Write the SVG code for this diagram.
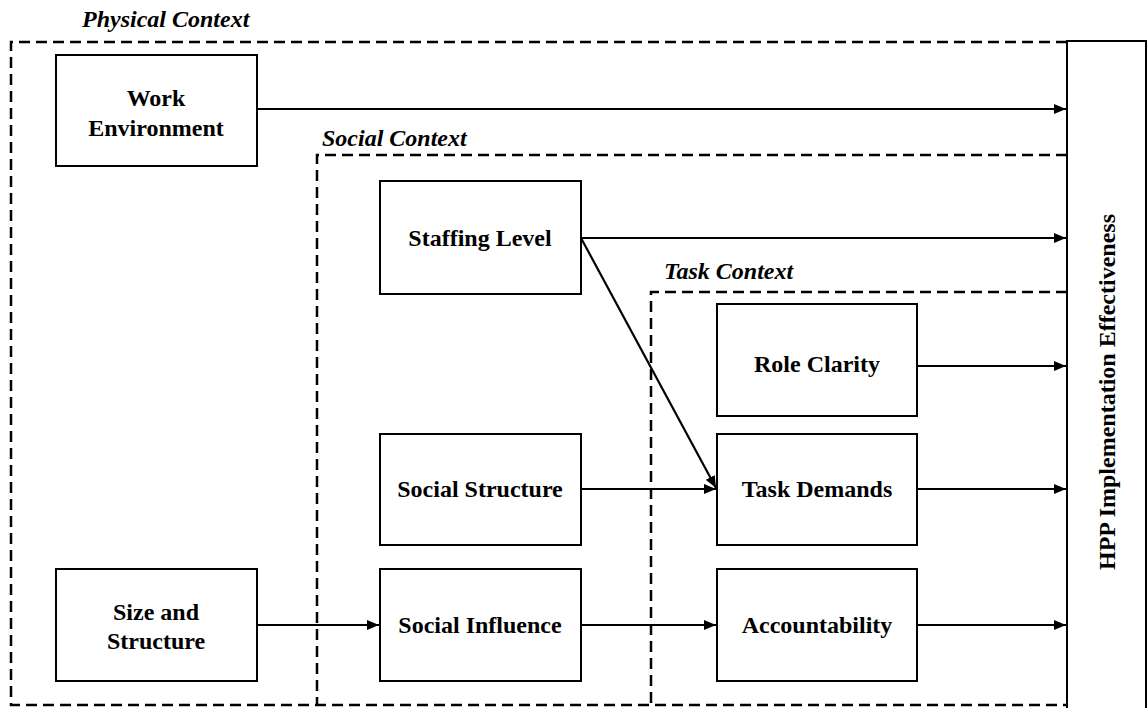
<svg xmlns="http://www.w3.org/2000/svg" width="1147" height="708" viewBox="0 0 1147 708">
<style>
.box{fill:#fff;stroke:#000;stroke-width:2}
.dash{fill:none;stroke:#000;stroke-width:2.5;stroke-dasharray:11 6}
.lbl{font-family:'Liberation Serif','Times New Roman',Times,serif;font-weight:bold;font-size:24px;text-anchor:middle;fill:#000}
.ctx{font-family:'Liberation Serif','Times New Roman',Times,serif;font-weight:bold;font-style:italic;font-size:24px;fill:#000}
.conn{fill:none;stroke:#000;stroke-width:2.2}
</style>
<defs>
<marker id="ah" viewBox="0 0 12 10" refX="12" refY="5" markerWidth="12" markerHeight="10" markerUnits="userSpaceOnUse" orient="auto">
<path d="M0,0 L12,5 L0,10 z" fill="#000"/>
</marker>
</defs>
<rect x="0" y="0" width="1147" height="708" fill="#fff"/>
<g id="contexts">
<path class="dash" d="M1067,42 H11 V705 H1067"/>
<path class="dash" d="M1067,155 H317 V705"/>
<path class="dash" d="M1067,292 H651 V705"/>
<text class="ctx" x="82" y="27">Physical Context</text>
<text class="ctx" x="322" y="146">Social Context</text>
<text class="ctx" x="664" y="279">Task Context</text>
</g>
<g id="hpp">
<rect class="box" x="1067" y="41" width="79" height="680"/>
<text class="lbl" transform="translate(1115,392) rotate(-90)">HPP Implementation Effectiveness</text>
</g>
<g id="work-environment">
<rect class="box" x="56" y="55" width="201" height="111"/>
<text class="lbl" x="156" y="106">Work</text>
<text class="lbl" x="156" y="136">Environment</text>
</g>
<g id="size-structure">
<rect class="box" x="56" y="569" width="201" height="112"/>
<text class="lbl" x="156" y="620">Size and</text>
<text class="lbl" x="156" y="649">Structure</text>
</g>
<g id="staffing-level">
<rect class="box" x="380" y="181" width="201" height="113"/>
<text class="lbl" x="480" y="246">Staffing Level</text>
</g>
<g id="social-structure">
<rect class="box" x="380" y="434" width="201" height="111"/>
<text class="lbl" x="480" y="497">Social Structure</text>
</g>
<g id="social-influence">
<rect class="box" x="380" y="569" width="201" height="112"/>
<text class="lbl" x="480" y="633">Social Influence</text>
</g>
<g id="role-clarity">
<rect class="box" x="717" y="304" width="200" height="112"/>
<text class="lbl" x="817" y="372">Role Clarity</text>
</g>
<g id="task-demands">
<rect class="box" x="717" y="434" width="200" height="111"/>
<text class="lbl" x="817" y="497">Task Demands</text>
</g>
<g id="accountability">
<rect class="box" x="717" y="569" width="200" height="112"/>
<text class="lbl" x="817" y="633">Accountability</text>
</g>
<g id="connectors">
<line class="conn" x1="257" y1="109" x2="1066" y2="109" marker-end="url(#ah)"/>
<line class="conn" x1="581" y1="238" x2="1066" y2="238" marker-end="url(#ah)"/>
<line class="conn" x1="581" y1="238" x2="716" y2="488" marker-end="url(#ah)"/>
<line class="conn" x1="917" y1="366" x2="1066" y2="366" marker-end="url(#ah)"/>
<line class="conn" x1="581" y1="489" x2="716" y2="489" marker-end="url(#ah)"/>
<line class="conn" x1="917" y1="489" x2="1066" y2="489" marker-end="url(#ah)"/>
<line class="conn" x1="257" y1="625" x2="379" y2="625" marker-end="url(#ah)"/>
<line class="conn" x1="581" y1="625" x2="716" y2="625" marker-end="url(#ah)"/>
<line class="conn" x1="917" y1="625" x2="1066" y2="625" marker-end="url(#ah)"/>
</g>
</svg>
